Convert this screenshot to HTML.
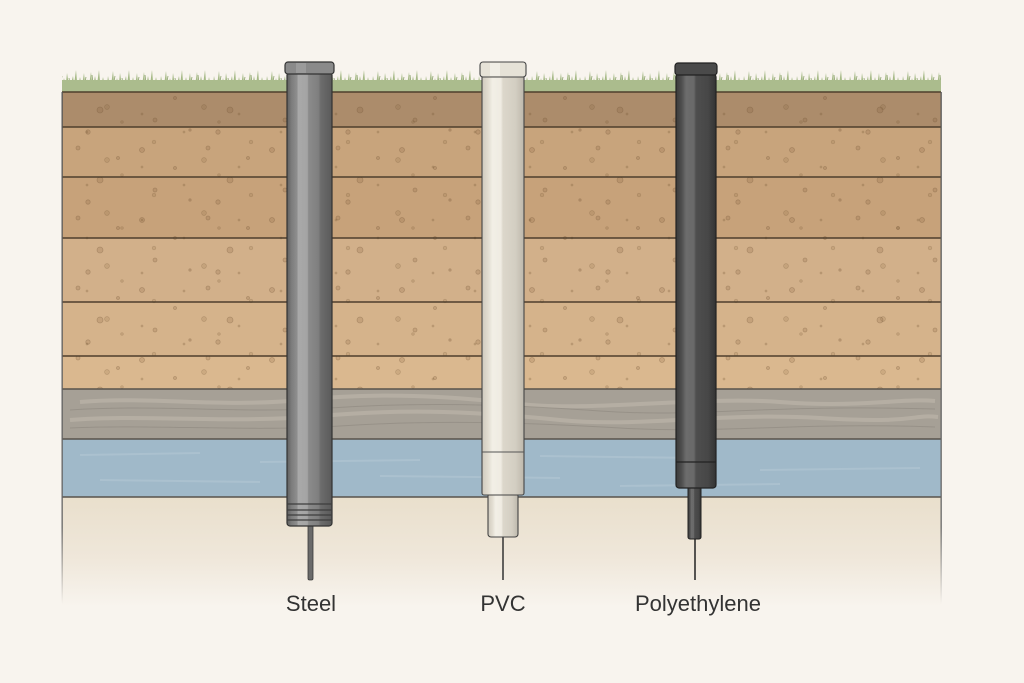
<!DOCTYPE html>
<html><head><meta charset="utf-8">
<style>
html,body{margin:0;padding:0;background:#f8f4ee;}
svg{display:block;}
text{font-family:"Liberation Sans",sans-serif;}
</style></head>
<body>
<svg width="1024" height="683" viewBox="0 0 1024 683" xmlns="http://www.w3.org/2000/svg">
<defs>
  <pattern id="dots" x="0" y="0" width="130" height="70" patternUnits="userSpaceOnUse">
    <g fill="rgba(120,85,50,0.18)" stroke="rgba(105,75,45,0.3)" stroke-width="0.8">
      <circle cx="12" cy="10" r="2.5"/>
      <circle cx="45" cy="28" r="1.5"/>
      <circle cx="78" cy="8" r="2"/>
      <circle cx="100" cy="40" r="3"/>
      <circle cx="25" cy="50" r="2"/>
      <circle cx="60" cy="60" r="1.2"/>
      <circle cx="118" cy="18" r="1.5"/>
      <circle cx="88" cy="62" r="2.2"/>
    </g>
  </pattern>
  <pattern id="dots2" x="37" y="21" width="97" height="53" patternUnits="userSpaceOnUse">
    <g fill="rgba(120,85,50,0.15)" stroke="rgba(105,75,45,0.25)" stroke-width="0.7">
      <circle cx="20" cy="15" r="1.8"/>
      <circle cx="70" cy="33" r="2.4"/>
      <circle cx="50" cy="5" r="1"/>
      <circle cx="85" cy="48" r="1.3"/>
      <circle cx="8" cy="40" r="1"/>
    </g>
  </pattern>
  <pattern id="grass" x="0" y="68" width="53" height="24" patternUnits="userSpaceOnUse">
    <g fill="#a6ba87">
      <path d="M0 24 L2 8 L5 24 Z"/>
      <path d="M4 24 L7 3 L9 24 Z"/>
      <path d="M8 24 L11 10 L14 24 Z"/>
      <path d="M12 24 L14 5 L17 24 Z"/>
      <path d="M16 24 L20 8 L22 24 Z"/>
      <path d="M20 24 L23 2 L25 24 Z"/>
      <path d="M24 24 L27 9 L30 24 Z"/>
      <path d="M28 24 L31 5 L33 24 Z"/>
      <path d="M32 24 L34 11 L37 24 Z"/>
      <path d="M35 24 L38 4 L40 24 Z"/>
      <path d="M39 24 L42 8 L45 24 Z"/>
      <path d="M43 24 L46 2 L48 24 Z"/>
      <path d="M47 24 L50 9 L53 24 Z"/>
    </g>
    <g stroke="#8ca36c" stroke-width="0.8" fill="none">
      <path d="M6 24 L9 8"/>
      <path d="M18 24 L16 10"/>
      <path d="M30 24 L33 9"/>
      <path d="M41 24 L39 7"/>
    </g>
  </pattern>
  <linearGradient id="sand" x1="0" y1="0" x2="0" y2="1">
    <stop offset="0" stop-color="#e9dfcc"/>
    <stop offset="0.55" stop-color="#efe7da"/>
    <stop offset="1" stop-color="#f8f4ee"/>
  </linearGradient>
  <linearGradient id="steel" x1="0" y1="0" x2="1" y2="0">
    <stop offset="0" stop-color="#5f5f5f"/>
    <stop offset="0.1" stop-color="#7c7c7c"/>
    <stop offset="0.22" stop-color="#8e8e8e"/>
    <stop offset="0.25" stop-color="#a9a9a9"/>
    <stop offset="0.45" stop-color="#a4a4a4"/>
    <stop offset="0.48" stop-color="#8b8b8b"/>
    <stop offset="0.7" stop-color="#7f7f7f"/>
    <stop offset="0.75" stop-color="#6c6c6c"/>
    <stop offset="1" stop-color="#5a5a5a"/>
  </linearGradient>
  <linearGradient id="pvc" x1="0" y1="0" x2="1" y2="0">
    <stop offset="0" stop-color="#cfcabe"/>
    <stop offset="0.15" stop-color="#e2ddd1"/>
    <stop offset="0.25" stop-color="#f2efe6"/>
    <stop offset="0.45" stop-color="#efebe2"/>
    <stop offset="0.5" stop-color="#dcd7cb"/>
    <stop offset="0.8" stop-color="#d3cec2"/>
    <stop offset="1" stop-color="#bdb8ac"/>
  </linearGradient>
  <linearGradient id="poly" x1="0" y1="0" x2="1" y2="0">
    <stop offset="0" stop-color="#3a3a3a"/>
    <stop offset="0.15" stop-color="#505050"/>
    <stop offset="0.25" stop-color="#6c6c6c"/>
    <stop offset="0.45" stop-color="#696969"/>
    <stop offset="0.5" stop-color="#4e4e4e"/>
    <stop offset="0.8" stop-color="#474747"/>
    <stop offset="1" stop-color="#333333"/>
  </linearGradient>
  <linearGradient id="side" x1="0" y1="0" x2="0" y2="1">
    <stop offset="0" stop-color="#555"/>
    <stop offset="0.85" stop-color="#666"/>
    <stop offset="1" stop-color="#666" stop-opacity="0"/>
  </linearGradient>
</defs>

<rect width="1024" height="683" fill="#f8f4ee"/>

<!-- grass -->
<rect x="62" y="68" width="879" height="24" fill="url(#grass)"/>
<rect x="62" y="80" width="879" height="12" fill="#abbc8d"/>

<!-- soil layers -->
<rect x="62" y="92" width="879" height="35" fill="#ac8c6b"/>
<rect x="62" y="127" width="879" height="50" fill="#c8a47c"/>
<rect x="62" y="177" width="879" height="61" fill="#c7a27a"/>
<rect x="62" y="238" width="879" height="64" fill="#d2b08a"/>
<rect x="62" y="302" width="879" height="54" fill="#d5b38b"/>
<rect x="62" y="356" width="879" height="33" fill="#dab88f"/>
<rect x="62" y="92" width="879" height="297" fill="url(#dots)"/>
<rect x="62" y="92" width="879" height="297" fill="url(#dots2)"/>
<rect x="62" y="389" width="879" height="50" fill="#a6a096"/>
<g fill="none" stroke="#bcb5a9" stroke-width="4" opacity="0.7">
  <path d="M80 402 C150 396 220 408 300 400 S450 396 520 404 S700 396 780 402 S900 398 935 401"/>
  <path d="M70 420 C140 414 230 424 320 416 S480 412 560 420 S720 412 820 418 S910 414 938 417"/>
</g>
<g fill="none" stroke="#8e887f" stroke-width="1" opacity="0.6">
  <path d="M70 410 C160 404 240 414 330 408 S500 404 600 411 S760 404 935 409"/>
  <path d="M70 428 C150 424 250 432 340 426 S520 422 620 428 S800 422 935 427"/>
</g>
<rect x="62" y="439" width="879" height="58" fill="#a0b9c9"/>
<g fill="none" stroke="#b6cad6" stroke-width="2" opacity="0.5">
  <path d="M80 455 L200 453 M260 462 L420 460 M540 456 L700 458 M760 470 L920 468 M100 480 L260 482 M380 476 L560 478 M620 486 L780 484"/>
</g>
<rect x="62" y="497" width="879" height="110" fill="url(#sand)"/>

<!-- layer lines -->
<g fill="none" stroke="#4e3e2c" stroke-width="1.5">
  <path d="M62 92 L941 92"/>
  <path d="M62 127 C200 126 350 128 500 127 S800 126 941 127"/>
  <path d="M62 177 C200 178 350 176 500 177 S800 178 941 177"/>
  <path d="M62 238 C200 237 350 239 500 238 S800 237 941 238"/>
  <path d="M62 302 C200 303 350 301 500 302 S800 303 941 302"/>
  <path d="M62 356 C200 357 350 355 500 356 S800 357 941 356"/>
</g>
<g fill="none" stroke="#58534c" stroke-width="1.5">
  <path d="M62 389 C200 388 350 390 500 389 S800 388 941 389"/>
  <path d="M62 439 C200 440 350 438 500 439 S800 440 941 439"/>
  <path d="M62 497 C200 496 350 498 500 497 S800 496 941 497"/>
</g>
<!-- side borders -->
<rect x="61.5" y="92" width="1.3" height="512" fill="url(#side)"/>
<rect x="940.5" y="92" width="1.3" height="512" fill="url(#side)"/>

<!-- STEEL pipe -->
<rect x="308" y="520" width="5" height="60" rx="1.5" fill="#6a6a6a" stroke="#3a3a3a" stroke-width="0.8"/>
<rect x="287" y="72" width="45" height="454" rx="3" fill="url(#steel)" stroke="#333" stroke-width="1.2"/>
<g stroke="#3d3d3d" stroke-width="1.2" fill="none">
  <line x1="287" y1="504" x2="332" y2="504"/>
  <line x1="287" y1="510" x2="332" y2="510"/>
  <line x1="287" y1="515" x2="332" y2="515"/>
  <line x1="287" y1="520" x2="332" y2="520"/>
</g>
<rect x="285" y="62" width="49" height="12" rx="3" fill="#8a8a8a" stroke="#333" stroke-width="1.2"/>
<rect x="296" y="63" width="10" height="10" fill="#a2a2a2" opacity="0.7"/>

<!-- PVC pipe -->
<line x1="503" y1="537" x2="503" y2="580" stroke="#333" stroke-width="1.5"/>
<rect x="488" y="493" width="30" height="44" rx="3" fill="url(#pvc)" stroke="#444" stroke-width="1.1"/>
<rect x="482" y="75" width="42" height="420" rx="2" fill="url(#pvc)" stroke="#444" stroke-width="1.1"/>
<line x1="482" y1="452" x2="524" y2="452" stroke="#555" stroke-width="1.1"/>
<rect x="480" y="62" width="46" height="15" rx="3" fill="#e6e2d7" stroke="#444" stroke-width="1.1"/>
<rect x="490" y="63" width="10" height="13" fill="#f4f1ea" opacity="0.8"/>

<!-- POLY pipe -->
<line x1="695" y1="539" x2="695" y2="580" stroke="#222" stroke-width="1.5"/>
<rect x="688" y="486" width="13" height="53" rx="2" fill="url(#poly)" stroke="#222" stroke-width="1"/>
<rect x="676" y="74" width="40" height="414" rx="3" fill="url(#poly)" stroke="#222" stroke-width="1.2"/>
<line x1="676" y1="462" x2="716" y2="462" stroke="#222" stroke-width="1.2"/>
<rect x="675" y="63" width="42" height="12" rx="3" fill="#4a4a4a" stroke="#222" stroke-width="1.2"/>

<!-- labels -->
<text x="311" y="611" font-size="22" fill="#333" text-anchor="middle">Steel</text>
<text x="503" y="611" font-size="22" fill="#333" text-anchor="middle">PVC</text>
<text x="698" y="611" font-size="22" fill="#333" text-anchor="middle">Polyethylene</text>
</svg>
</body></html>
